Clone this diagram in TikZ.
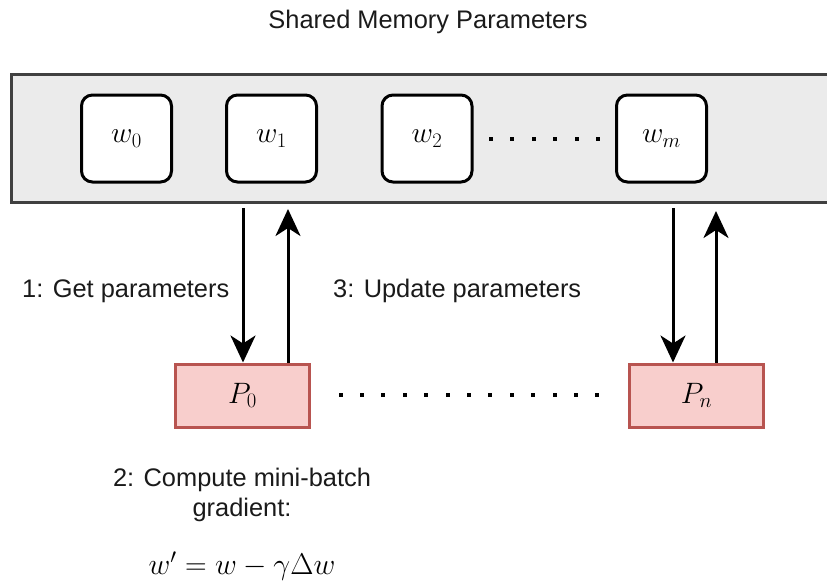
\RequirePackage{fix-cm}
\documentclass[tikz,border=0pt]{standalone}
\usepackage{fontspec}
\setmainfont{Liberation Sans}
\usetikzlibrary{arrows.meta}
\definecolor{barfill}{HTML}{EBEBEB}
\definecolor{barline}{HTML}{404040}
\definecolor{pfill}{HTML}{F8CECC}
\definecolor{pline}{HTML}{B85450}
\definecolor{txt}{HTML}{1A1A1A}
\tikzset{
  lbl/.style={font=\fontsize{25.4}{30}\selectfont, text=txt, inner sep=0pt},
  wbox/.style={draw=black, fill=white, line width=3pt, rounded corners=11pt,
    minimum width=90pt, minimum height=87pt, inner sep=0pt,
    font=\fontsize{29.5}{35}\selectfont},
  pbox/.style={draw=pline, fill=pfill, line width=3pt,
    minimum width=134pt, minimum height=63pt, inner sep=0pt,
    font=\fontsize{29.5}{35}\selectfont},
  arr/.style={line width=3pt, -{Stealth[length=27pt,width=25pt,inset=8pt]}},
  dotsq/.style={fill=black}
}
\begin{document}
\begin{tikzpicture}[x=1pt,y=-1pt]
\useasboundingbox (0,0) rectangle (827,584);
\clip (0,0) rectangle (827,584);
% title
\node[lbl] (title) at (428,22) {Shared Memory Parameters};
% shared memory bar
\draw[draw=barline, fill=barfill, line width=3pt] (11.5,74.5) rectangle (840,202.5);
% parameter boxes
\node[wbox] (w0) at (126.5,138.5) {$w_0$};
\node[wbox] (w1) at (271.5,138.5) {$w_1$};
\node[wbox] (w2) at (427,138.5) {$w_2$};
\node[wbox] (wm) at (661.5,138.5) {$w_m$};
% dots between w2 and wm
\foreach \i in {0,...,5} {
  \fill[dotsq] ({491+21.4*\i-2},137) rectangle ++(4,4);
}
% processes
\node[pbox] (P0) at (242.5,395.5) {$P_0$};
\node[pbox] (Pn) at (696.5,395.5) {$P_n$};
% dots between P0 and Pn
\foreach \i in {0,...,12} {
  \fill[dotsq] ({340.5+21.4*\i-2},393) rectangle ++(4,4);
}
% arrows
\coordinate (g0) at (243,208);
\coordinate (u0) at (288,209);
\coordinate (gn) at (673,208);
\coordinate (un) at (716,211);
\draw[arr] (g0) -- (g0 |- P0.north);
\draw[arr] (u0 |- P0.north) -- (u0);
\draw[arr] (gn) -- (gn |- Pn.north);
\draw[arr] (un |- Pn.north) -- (un);
% labels
\node[lbl, anchor=west] (l1) at (22,291) {1: Get parameters};
\node[lbl, anchor=west] (l3) at (333,291) {3: Update parameters};
\node[lbl, align=center] (l2) at (242,495) {2: Compute mini-batch\\gradient:};
\node[inner sep=0pt, font=\fontsize{30}{36}\selectfont] (f) at (242,566) {$w' = w - \gamma\Delta w$};
\end{tikzpicture}
\end{document}
